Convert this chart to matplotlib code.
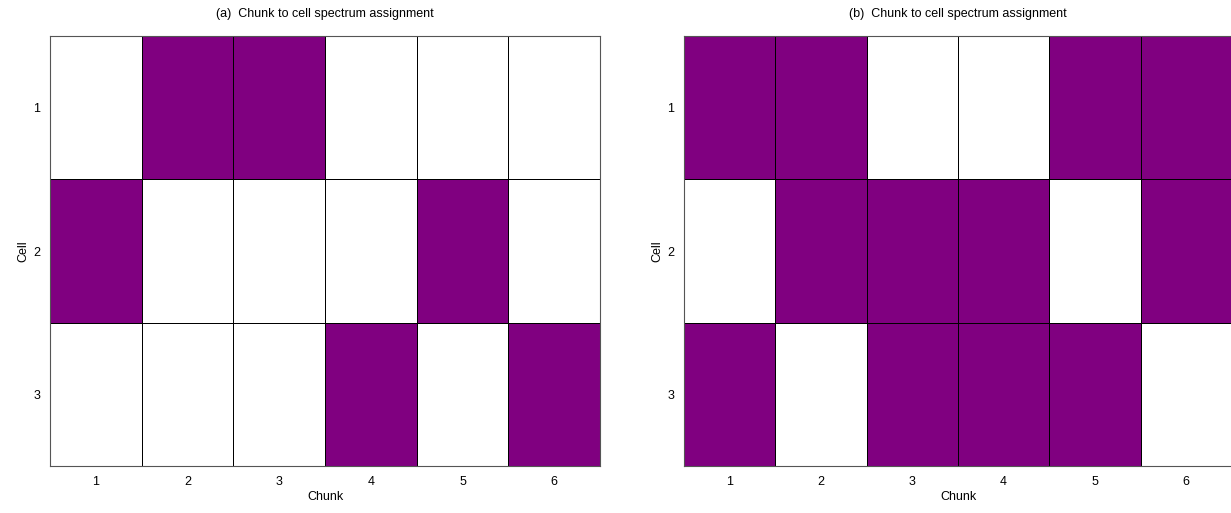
import matplotlib.pyplot as plt
import numpy as np
from matplotlib.colors import ListedColormap

plt.rcParams['font.family'] = ['Liberation Sans', 'DejaVu Sans']
plt.rcParams['font.size'] = 9

chunks = [1, 2, 3, 4, 5, 6]
cells = [1, 2, 3]

# 1 = chunk assigned to the cell
assign_a = [
    [0, 1, 1, 0, 0, 0],
    [1, 0, 0, 0, 1, 0],
    [0, 0, 0, 1, 0, 1],
]
assign_b = [
    [1, 1, 0, 0, 1, 1],
    [0, 1, 1, 1, 0, 1],
    [1, 0, 1, 1, 1, 0],
]
titles = ["(a)  Chunk to cell spectrum assignment",
          "(b)  Chunk to cell spectrum assignment"]

cmap = ListedColormap(['white', '#800080'])

fig = plt.figure(figsize=(12.31, 5.13), dpi=100)
ax_a = fig.add_axes([50 / 1231, 1 - 466 / 513, 550 / 1231, 430 / 513])
ax_b = fig.add_axes([684 / 1231, 1 - 466 / 513, 548 / 1231, 430 / 513])

for ax, data, title in zip([ax_a, ax_b], [assign_a, assign_b], titles):
    grid = np.array(data)
    xe = np.arange(len(chunks) + 1) + 0.5
    ye = np.arange(len(cells) + 1) + 0.5
    ax.pcolormesh(xe, ye, grid, cmap=cmap, vmin=0, vmax=1,
                  edgecolors='black', linewidth=0.7)
    ax.set_xlim(0.5, len(chunks) + 0.5)
    ax.set_ylim(len(cells) + 0.5, 0.5)
    ax.set_xticks(chunks)
    ax.set_yticks(cells)
    ax.tick_params(length=0, pad=7)
    ax.set_xlabel("Chunk", labelpad=2)
    ax.set_ylabel("Cell", labelpad=3)
    ax.set_title(title, fontsize=9, pad=14)
    for s in ax.spines.values():
        s.set_color('#555555')
        s.set_linewidth(0.8)

fig.savefig('out.png', dpi=100)
